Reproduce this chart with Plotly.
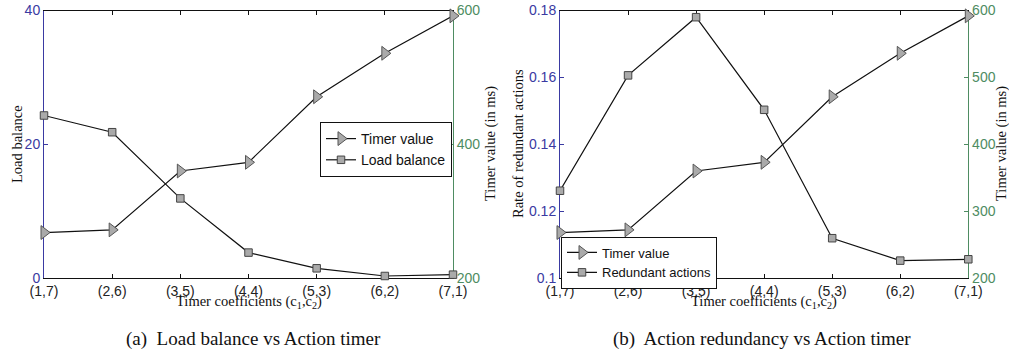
import plotly.graph_objects as go

# ---------------- data ----------------
categories = ["(1,7)", "(2,6)", "(3,5)", "(4,4)", "(5,3)", "(6,2)", "(7,1)"]
timer_values = [268, 272, 360, 373, 471, 536, 592]
load_balance = [24.3, 21.8, 11.9, 3.8, 1.45, 0.3, 0.5]
redundant_rate = [0.1261, 0.1606, 0.178, 0.1503, 0.1119, 0.1052, 0.1056]

# ---------------- layout helpers ----------------
W, H = 1009, 352
def px(x):
    return x / W
def py(y):
    return 1 - y / H

BLUE = "#3a3aa2"
GREEN = "#4e8c62"
SANS = "Liberation Sans"
SERIF = "Liberation Serif"
xpos = list(range(len(categories)))

dom_y = [py(278), py(10.5)]
dom_l = [px(44), px(453)]
dom_r = [px(560), px(968.3)]

tri = dict(symbol="triangle-right", size=12, color="#aaaaaa", line=dict(color="#555555", width=1))
sq = dict(symbol="square", size=7.5, color="#aaaaaa", line=dict(color="#444444", width=1))
line = dict(color="#111111", width=1.2)

fig = go.Figure()
fig.add_trace(go.Scatter(x=xpos, y=timer_values, name="Timer value", mode="lines+markers",
                         marker=tri, line=line, xaxis="x", yaxis="y2", legend="legend", cliponaxis=False))
fig.add_trace(go.Scatter(x=xpos, y=load_balance, name="Load balance", mode="lines+markers",
                         marker=sq, line=line, xaxis="x", yaxis="y", legend="legend", cliponaxis=False))
fig.add_trace(go.Scatter(x=xpos, y=timer_values, name="Timer value", mode="lines+markers",
                         marker=tri, line=line, xaxis="x2", yaxis="y4", legend="legend2", cliponaxis=False))
fig.add_trace(go.Scatter(x=xpos, y=redundant_rate, name="Redundant actions", mode="lines+markers",
                         marker=sq, line=line, xaxis="x2", yaxis="y3", legend="legend2", cliponaxis=False))

def xax(domain, anchor):
    return dict(domain=domain, anchor=anchor, range=[0, 6], tickmode="array", tickvals=xpos,
                ticktext=categories, ticks="inside", ticklen=4, tickcolor="#111111",
                showline=True, linecolor="#111111", linewidth=1, mirror="ticks",
                showgrid=False, zeroline=False, layer="below traces", automargin=False,
                tickfont=dict(family=SANS, size=14, color="#222222"))

def yax(domain, anchor, rng, vals, color, side="left", overlaying=None, fmt=None):
    d = dict(domain=domain, anchor=anchor, range=rng, tickmode="array", tickvals=vals,
             ticks="inside", ticklen=4, tickcolor=color, showline=True, linecolor=color,
             linewidth=1, showgrid=False, zeroline=False, side=side, layer="below traces",
             automargin=False, tickfont=dict(family=SANS, size=14, color=color))
    if overlaying:
        d["overlaying"] = overlaying
    if fmt:
        d["ticktext"] = fmt
    return d

fig.update_layout(
    width=W, height=H, margin=dict(l=0, r=0, t=0, b=0, autoexpand=False),
    paper_bgcolor="white", plot_bgcolor="white", showlegend=True,
    xaxis=xax(dom_l, "y"),
    yaxis=yax(dom_y, "x", [0, 40], [0, 20, 40], BLUE),
    yaxis2=yax(dom_y, "x", [200, 600], [200, 400, 600], GREEN, side="right", overlaying="y"),
    xaxis2=xax(dom_r, "y3"),
    yaxis3=yax(dom_y, "x2", [0.1, 0.18], [0.1, 0.12, 0.14, 0.16, 0.18], BLUE,
               fmt=["0.1", "0.12", "0.14", "0.16", "0.18"]),
    yaxis4=yax(dom_y, "x2", [200, 600], [200, 300, 400, 500, 600], GREEN, side="right", overlaying="y3"),
    legend=dict(x=px(320), y=py(122), xanchor="left", yanchor="top", bgcolor="white",
                bordercolor="#111111", borderwidth=1, tracegroupgap=0, itemwidth=30,
                font=dict(family=SANS, size=14, color="#111111")),
    legend2=dict(x=px(561), y=py(236.5), xanchor="left", yanchor="top", bgcolor="white",
                 bordercolor="#111111", borderwidth=1, tracegroupgap=0, itemwidth=30,
                 font=dict(family=SANS, size=13, color="#111111")),
)

def ann(text, x, y, size, angle=0):
    fig.add_annotation(text=text, x=px(x), y=py(y), xref="paper", yref="paper",
                       showarrow=False, textangle=angle, xanchor="center", yanchor="middle",
                       font=dict(family=SERIF, size=size, color="#111111"))

ann("Load balance", 17, 144, 14.5, -90)
ann("Timer value (in ms)", 490, 144, 14.5, -90)
ann("Rate of redundant actions", 518, 144, 14.5, -90)
ann("Timer value (in ms)", 1001, 144, 14.5, -90)
ann("Timer coefficients (c<sub>1</sub>,c<sub>2</sub>)", 249, 302, 14.5)
ann("Timer coefficients (c<sub>1</sub>,c<sub>2</sub>)", 764, 302, 14.5)
ann("(a)\u00a0 Load balance vs Action timer", 253, 339, 19)
ann("(b)\u00a0 Action redundancy vs Action timer", 761.5, 339, 19)

fig.write_html("out.html")
